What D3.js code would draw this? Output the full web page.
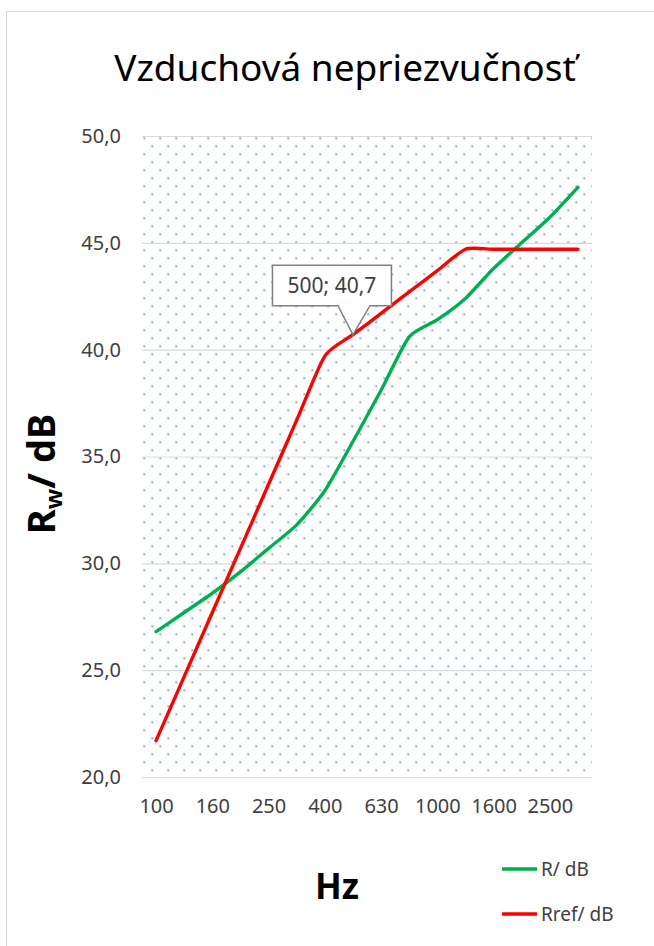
<!DOCTYPE html>
<html>
<head>
<meta charset="utf-8">
<script src="https://cdn.jsdelivr.net/npm/d3@7"></script>
<style>
  html, body { margin: 0; padding: 0; background: #fff; }
  svg { display: block; font-family: "Noto Sans", "Open Sans", sans-serif; }
</style>
</head>
<body>
<svg id="chart" width="654" height="946"></svg>
<script>
// Third-octave band centre frequencies (Hz)
const frequencies = ["100", "125", "160", "200", "250", "315", "400", "500",
                     "630", "800", "1000", "1250", "1600", "2000", "2500", "3150"];
// Measured sound reduction index R (dB)
const measured = [26.8, 27.7, 28.6, 29.6, 30.7, 31.8, 33.4, 35.7,
                  38.1, 40.6, 41.4, 42.4, 43.8, 45.0, 46.2, 47.6];
// Shifted reference curve Rref (dB)
const reference = [21.7, 24.7, 27.7, 30.7, 33.7, 36.7, 39.7, 40.7,
                   41.7, 42.7, 43.7, 44.7, 44.7, 44.7, 44.7, 44.7];
const xTickLabels = ["100", "160", "250", "400", "630", "1000", "1600", "2500"];
const yTicks = [20, 25, 30, 35, 40, 45, 50];
const seriesNames = ["R/ dB", "Rref/ dB"];
const calloutFrequency = "500";

const svg = d3.select("#chart");
const W = 654, H = 946;
const plot = { left: 142, right: 592, top: 136, bottom: 777 };

const decimal = v => d3.format(".1f")(v).replace(".", ",");

// outer chart frame
svg.append("rect")
  .attr("x", 6.5).attr("y", 11.5)
  .attr("width", W + 20).attr("height", H + 20)
  .attr("fill", "#fff").attr("stroke", "#d9d9d9").attr("stroke-width", 1);

const x = d3.scalePoint().domain(frequencies).range([plot.left, plot.right]).padding(0.5);
const y = d3.scaleLinear().domain([20, 50]).range([plot.bottom, plot.top]);

// dotted plot-area fill
const defs = svg.append("defs");
const pat = defs.append("pattern")
  .attr("id", "dots").attr("patternUnits", "userSpaceOnUse")
  .attr("x", plot.left + 2.3).attr("y", plot.top + 2.3)
  .attr("width", 16).attr("height", 16);
[[0, 0], [8, 8], [16, 16], [16, 0], [0, 16]].forEach(([cx, cy]) => {
  pat.append("circle").attr("cx", cx).attr("cy", cy).attr("r", 1).attr("fill", "#5b9bd5");
});

svg.append("rect")
  .attr("x", plot.left).attr("y", plot.top)
  .attr("width", plot.right - plot.left).attr("height", plot.bottom - plot.top)
  .attr("fill", "url(#dots)");

// horizontal gridlines
svg.append("g").selectAll("line").data(yTicks).join("line")
  .attr("x1", plot.left).attr("x2", plot.right)
  .attr("y1", d => y(d) + 0.5).attr("y2", d => y(d) + 0.5)
  .attr("stroke", "#d9d9d9").attr("stroke-width", 1.2);

// y axis labels
const yAxis = d3.axisLeft(y).tickValues(yTicks).tickFormat(decimal).tickSize(0).tickPadding(21);
const gy = svg.append("g").attr("transform", `translate(${plot.left},0)`).call(yAxis);
gy.select(".domain").remove();
gy.selectAll("text").attr("font-size", 20).attr("fill", "#404040")
  .attr("font-family", "'Noto Sans', sans-serif");

// x axis labels
const xAxis = d3.axisBottom(x).tickValues(xTickLabels).tickSize(0).tickPadding(22);
const gx = svg.append("g").attr("transform", `translate(0,${plot.bottom})`).call(xAxis);
gx.select(".domain").remove();
gx.selectAll("text").attr("font-size", 20).attr("fill", "#404040")
  .attr("font-family", "'Noto Sans', sans-serif");

// series lines (lightly smoothed)
const line = d3.line()
  .x((d, i) => x(frequencies[i]))
  .y(d => y(d))
  .curve(d3.curveCardinal.tension(0.35));

const series = [
  { name: seriesNames[0], values: measured, color: "#00b050" },
  { name: seriesNames[1], values: reference, color: "#ff0000" }
];

svg.append("g").selectAll("path").data(series).join("path")
  .attr("d", d => line(d.values))
  .attr("fill", "none")
  .attr("stroke", d => d.color)
  .attr("stroke-width", 3.4)
  .attr("stroke-linecap", "round")
  .attr("stroke-linejoin", "round");

// data callout on the reference curve
const ci = frequencies.indexOf(calloutFrequency);
const tipX = x(frequencies[ci]), tipY = y(reference[ci]);
const bx0 = tipX - 80.5, bx1 = tipX + 38.5, by0 = tipY - 69.5, by1 = tipY - 29;
const callout = svg.append("g");
callout.append("path")
  .attr("d", `M${bx0},${by0} H${bx1} V${by1} H${tipX + 17} L${tipX},${tipY} L${tipX - 15},${by1} H${bx0} Z`)
  .attr("fill", "#fff").attr("stroke", "#808080").attr("stroke-width", 1.5);
callout.append("text")
  .attr("x", (bx0 + bx1) / 2).attr("y", (by0 + by1) / 2)
  .attr("dy", "0.35em").attr("text-anchor", "middle")
  .attr("font-size", 21).attr("fill", "#404040")
  .text(`${frequencies[ci]}; ${decimal(reference[ci])}`);

// title
svg.append("text")
  .attr("x", 345).attr("y", 81)
  .attr("text-anchor", "middle")
  .attr("font-size", 37).attr("fill", "#000")
  .text("Vzduchová nepriezvučnosť");

// y axis title
const yt = svg.append("text")
  .attr("transform", "translate(55,474) rotate(-90)")
  .attr("text-anchor", "middle")
  .attr("font-size", 38).attr("font-weight", "bold").attr("fill", "#000");
yt.append("tspan").text("R");
yt.append("tspan").attr("font-size", 24).attr("dy", 7).text("w");
yt.append("tspan").attr("dy", -7).text("/ dB");

// x axis title
svg.append("text")
  .attr("x", 337).attr("y", 899)
  .attr("text-anchor", "middle")
  .attr("font-size", 35).attr("font-weight", "bold").attr("fill", "#000")
  .text("Hz");

// legend
const legend = svg.append("g").selectAll("g").data(series).join("g")
  .attr("transform", (d, i) => `translate(502,${869 + i * 45})`);
legend.append("line")
  .attr("x1", 0).attr("x2", 35).attr("y1", 0).attr("y2", 0)
  .attr("stroke", d => d.color).attr("stroke-width", 3.4);
legend.append("text")
  .attr("x", 39).attr("dy", "0.35em")
  .attr("font-size", 19).attr("fill", "#404040")
  .text(d => d.name);
</script>
</body>
</html>
